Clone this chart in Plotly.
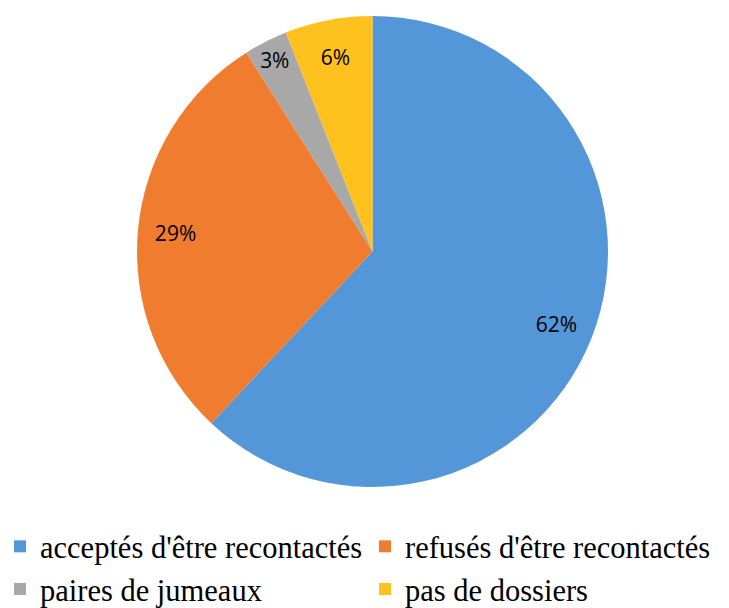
import plotly.graph_objects as go

labels = ["acceptés d'être recontactés", "refusés d'être recontactés", "paires de jumeaux", "pas de dossiers"]
values = [62, 29, 3, 6]
colors = ["#5397D8", "#F07C30", "#A8A8A8", "#FFC11E"]

W, H = 729, 608
# the page body adds an 8px offset, so the pie domain is placed 8px up-left
dom = dict(x=[129 / W, 600 / W], y=[1 - 479 / H, 1 - 8 / H])

fig = go.Figure()
fig.add_trace(go.Pie(
    labels=labels, values=values, sort=False, direction="clockwise", rotation=0,
    marker=dict(colors=colors, line=dict(width=0)),
    textinfo="none", domain=dom, hoverinfo="label+percent",
))
# transparent ring carrying the percentage labels near the rim
fig.add_trace(go.Pie(
    labels=labels, values=values, sort=False, direction="clockwise", rotation=0,
    hole=0.68, showlegend=False,
    marker=dict(colors=["rgba(0,0,0,0)"] * len(values), line=dict(width=0)),
    textinfo="percent", texttemplate="%{percent:.0%}",
    textposition="inside", insidetextorientation="horizontal",
    textfont=dict(family="Open Sans", size=21, color="#000000"),
    domain=dom, hoverinfo="skip",
))
fig.update_layout(
    width=W, height=H, margin=dict(l=0, r=0, t=0, b=0),
    paper_bgcolor="white", plot_bgcolor="white",
    showlegend=True,
    legend=dict(orientation="h", x=0.0, xanchor="left", y=0.0, yanchor="bottom",
                font=dict(family="Liberation Serif", size=30.5, color="#000000"),
                entrywidth=328, entrywidthmode="pixels", itemwidth=30,
                indentation=-8,
                tracegroupgap=0, bgcolor="rgba(0,0,0,0)"),
)
fig.write_html("out.html")
